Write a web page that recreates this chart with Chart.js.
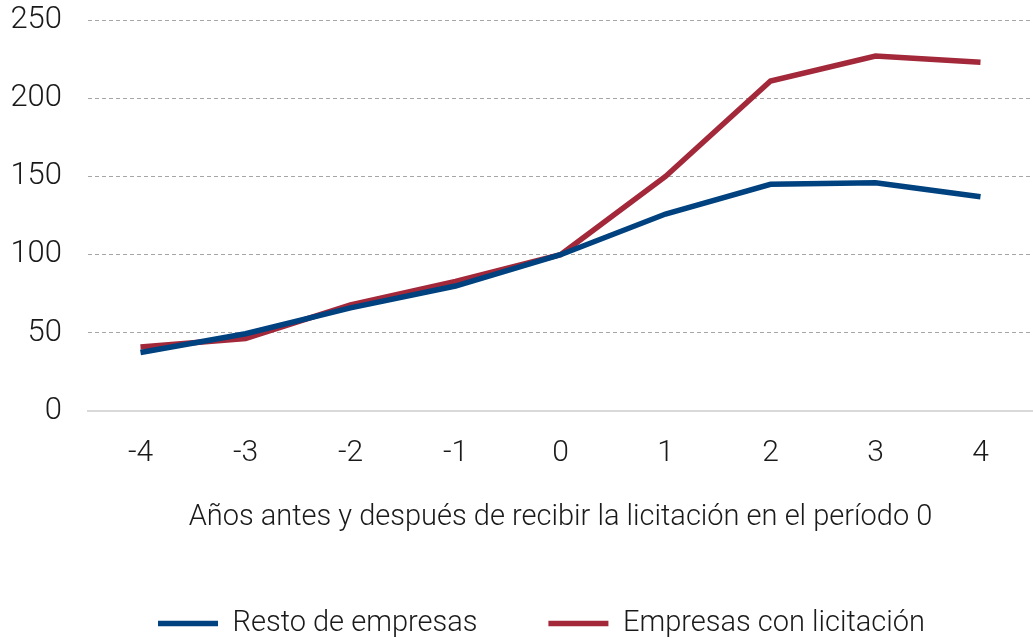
<!DOCTYPE html>
<html>
<head>
<meta charset="utf-8">
<script src="https://cdn.jsdelivr.net/npm/chart.js@4"></script>
<style>
  html, body { margin: 0; padding: 0; background: #fff; }
  #wrap { width: 1033px; height: 638px; position: relative; }
</style>
</head>
<body>
<div id="wrap"><canvas id="chart"></canvas></div>
<script>
const years = ['-4', '-3', '-2', '-1', '0', '1', '2', '3', '4'];
const restoEmpresas = [37.5, 49.5, 66, 80, 100, 126, 145, 146, 137];
const empresasLicitacion = [41, 46.5, 68, 83, 100, 150, 211, 227, 223];
const yTicks = [0, 50, 100, 150, 200, 250];

const blue = '#00427f';
const red = '#a2283a';

Chart.defaults.font.family = '"Helvetica Neue", Roboto, "Liberation Sans", sans-serif';
Chart.defaults.font.weight = 300;
Chart.defaults.font.size = 29;
Chart.defaults.color = '#1a1a1a';

// la leyenda del original no esta centrada, la movemos un poco a la derecha
const legendShift = {
    id: 'legendShift',
    afterLayout(c) {
        c.legend.left += 25;
        c.legend.right += 25;
    }
};

const ctx = document.getElementById('chart').getContext('2d');
const chart = new Chart(ctx, {
    type: 'line',
    data: {
        labels: years,
        datasets: [{
            label: 'Resto de empresas',
            data: restoEmpresas,
            borderColor: blue,
            backgroundColor: blue,
            borderWidth: 5.5,
            pointRadius: 0,
            tension: 0,
        }, {
            label: 'Empresas con licitación',
            data: empresasLicitacion,
            borderColor: red,
            backgroundColor: red,
            borderWidth: 5.5,
            pointRadius: 0,
            tension: 0,
        }]
    },
    options: {
        animation: false,
        responsive: true,
        maintainAspectRatio: false,
        layout: { padding: { left: 0, right: 0, top: 0, bottom: -10 } },
        scales: {
            x: {
                offset: true,
                grid: { display: false },
                border: { display: true, color: '#d9d9d9', width: 2 },
                ticks: { padding: 16, font: { size: 30 } },
                title: {
                    display: true,
                    text: 'Años antes y después de recibir la licitación en el período 0',
                    padding: { top: 13, bottom: 3 },
                }
            },
            y: {
                min: 0,
                max: 250,
                afterBuildTicks: (axis) => { axis.ticks = yTicks.map(v => ({ value: v })); },
                afterFit: (axis) => {
                    axis.width = 88;
                    axis.paddingTop = 20;
                },
                grid: {
                    drawTicks: false,
                    color: (c) => (c.tick && c.tick.value === 0) ? 'transparent' : '#a6a6a6',
                    lineWidth: 1,
                },
                border: { display: false, dash: [4, 3] },
                ticks: { padding: 26, font: { size: 31 } }
            }
        },
        plugins: {
            tooltip: { enabled: false },
            legend: {
                position: 'bottom',
                labels: {
                    usePointStyle: true,
                    pointStyle: 'line',
                    pointStyleWidth: 60,
                    padding: 71,
                }
            }
        }
    },
    plugins: [legendShift]
});
</script>
</body>
</html>
